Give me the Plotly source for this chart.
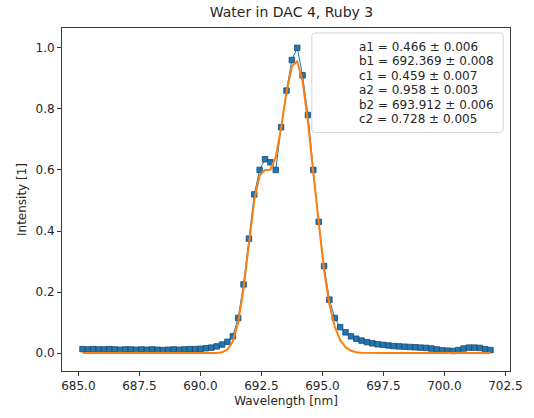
import numpy as np
import plotly.graph_objects as go

# Measured ruby fluorescence spectrum (normalised)
wavelength = [
    685.17, 685.39, 685.61, 685.83, 686.05, 686.27, 686.49, 686.71, 686.93, 687.15,
    687.37, 687.59, 687.81, 688.03, 688.25, 688.47, 688.69, 688.91, 689.13, 689.35,
    689.57, 689.79, 690.01, 690.23, 690.45, 690.67, 690.89, 691.11, 691.33, 691.55,
    691.77, 691.99, 692.21, 692.43, 692.65, 692.87, 693.09, 693.31, 693.53, 693.75,
    693.97, 694.19, 694.41, 694.63, 694.85, 695.07, 695.29, 695.51, 695.73, 695.95,
    696.17, 696.39, 696.61, 696.83, 697.05, 697.27, 697.49, 697.71, 697.93, 698.15,
    698.37, 698.59, 698.81, 699.03, 699.25, 699.47, 699.69, 699.91, 700.13, 700.35,
    700.57, 700.79, 701.01, 701.23, 701.45, 701.67, 701.89,
]
intensity = [
    0.013, 0.012, 0.013, 0.012, 0.012, 0.013, 0.012, 0.011, 0.012, 0.012,
    0.011, 0.012, 0.011, 0.012, 0.011, 0.010, 0.011, 0.012, 0.011, 0.012,
    0.013, 0.013, 0.014, 0.016, 0.018, 0.022, 0.028, 0.037, 0.055, 0.115,
    0.225, 0.375, 0.520, 0.600, 0.635, 0.625, 0.600, 0.740, 0.860, 0.960,
    1.000, 0.910, 0.780, 0.600, 0.430, 0.285, 0.175, 0.115, 0.085, 0.068,
    0.055, 0.047, 0.041, 0.036, 0.032, 0.029, 0.027, 0.025, 0.023, 0.022,
    0.021, 0.020, 0.019, 0.018, 0.017, 0.015, 0.012, 0.009, 0.008, 0.007,
    0.010, 0.015, 0.018, 0.018, 0.017, 0.013, 0.010,
]

# Double-Gaussian fit parameters
param_names = ["a1", "b1", "c1", "a2", "b2", "c2"]
param_values = [0.466, 692.369, 0.459, 0.958, 693.912, 0.728]
param_errors = [0.006, 0.008, 0.007, 0.003, 0.006, 0.005]

x_ticks = [685.0, 687.5, 690.0, 692.5, 695.0, 697.5, 700.0, 702.5]
y_ticks = [0.0, 0.2, 0.4, 0.6, 0.8, 1.0]


def double_gauss(x, a1, b1, c1, a2, b2, c2):
    x = np.asarray(x)
    return (a1 * np.exp(-(x - b1) ** 2 / (2 * c1 ** 2))
            + a2 * np.exp(-(x - b2) ** 2 / (2 * c2 ** 2)))


fit = double_gauss(wavelength, *param_values)

FONT = "DejaVu Sans"
BLUE = "#1f77b4"
ORANGE = "#ff7f0e"

fig = go.Figure()
fig.add_trace(go.Scatter(
    x=wavelength, y=intensity, mode="lines+markers",
    line=dict(color=BLUE, width=1),
    marker=dict(symbol="square", size=5.5, color=BLUE,
                line=dict(color="#1b4a70", width=0.8)),
    showlegend=False,
))
fig.add_trace(go.Scatter(
    x=wavelength, y=fit, mode="lines",
    line=dict(color=ORANGE, width=2),
    showlegend=False,
))

# plot area in pixels
W, H = 534, 418
L, R, T, B = 62, 521, 28, 373
pw, ph = R - L, B - T


def px(xp):
    return (xp - L) / pw


def py(yp):
    return 1 - (yp - T) / ph


def rounded_rect(x0, y0, x1, y1, r):
    # rounded rectangle path given in pixel coords, emitted in paper units
    def P(a, b):
        return f"{px(a):.5f},{py(b):.5f}"
    return " ".join([
        f"M {P(x0 + r, y0)}",
        f"L {P(x1 - r, y0)}",
        f"Q {P(x1, y0)} {P(x1, y0 + r)}",
        f"L {P(x1, y1 - r)}",
        f"Q {P(x1, y1)} {P(x1 - r, y1)}",
        f"L {P(x0 + r, y1)}",
        f"Q {P(x0, y1)} {P(x0, y1 - r)}",
        f"L {P(x0, y0 + r)}",
        f"Q {P(x0, y0)} {P(x0 + r, y0)} Z",
    ])


fig.add_shape(type="path", xref="paper", yref="paper",
              path=rounded_rect(318, 33, 514, 133, 3),
              fillcolor="rgba(255,255,255,0.8)",
              line=dict(color="#d4d4d4", width=1))

for i, (n, v, e) in enumerate(zip(param_names, param_values, param_errors)):
    fig.add_annotation(
        xref="paper", yref="paper", x=px(364), y=py(47 + i * 14.6),
        xanchor="left", yanchor="middle", showarrow=False,
        text=f"{n} = {v:.3f} ± {e:.3f}",
        font=dict(family=FONT, size=12, color="#262626"),
    )

axis_common = dict(
    showgrid=False, zeroline=False, showline=True, mirror=True,
    linecolor="#3a3a3a", linewidth=1, ticks="outside", ticklen=4,
    tickcolor="#3a3a3a", tickfont=dict(family=FONT, size=12, color="#262626"),
)

fig.update_layout(
    width=W, height=H,
    margin=dict(l=L, r=W - R, t=T, b=H - B),
    paper_bgcolor="white", plot_bgcolor="white",
    title=dict(text="Water in DAC 4, Ruby 3", x=(L + R) / 2 / W, xanchor="center",
               y=1 - 12 / H, yanchor="middle",
               font=dict(family=FONT, size=14, color="#262626")),
    xaxis=dict(range=[684.33, 702.69], tickvals=x_ticks,
               ticktext=[f"{t:.1f}" for t in x_ticks],
               title=dict(text="Wavelength [nm]", standoff=4,
                          font=dict(family=FONT, size=12, color="#262626")),
               **axis_common),
    yaxis=dict(range=[-0.0586, 1.065], tickvals=y_ticks,
               ticktext=[f"{t:.1f}" for t in y_ticks],
               title=dict(text="Intensity [1]", standoff=6,
                          font=dict(family=FONT, size=12, color="#262626")),
               **axis_common),
)

fig.write_html("out.html")
